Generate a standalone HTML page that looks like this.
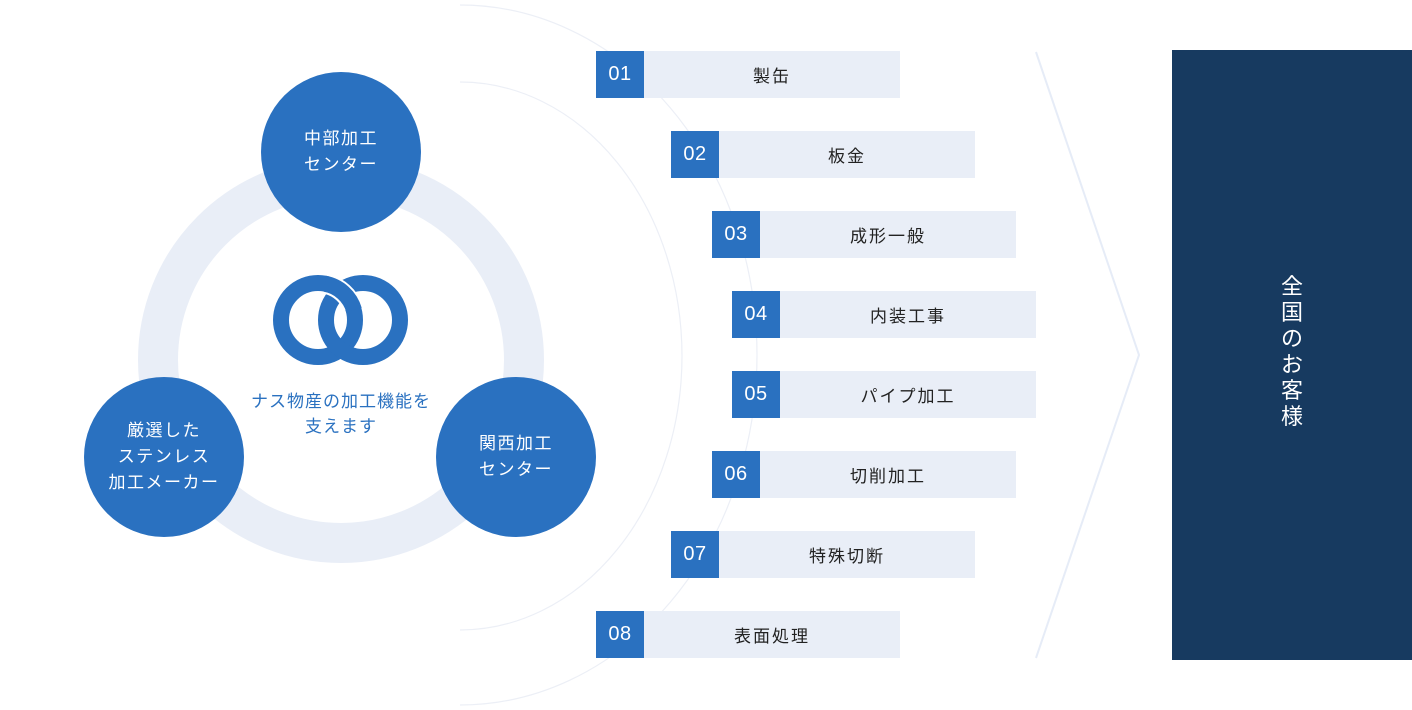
<!DOCTYPE html>
<html><head><meta charset="utf-8"><style>
body{margin:0;width:1412px;height:710px;background:#fff;position:relative;overflow:hidden;font-family:"Liberation Sans","Noto Sans CJK JP",sans-serif}
.b{position:absolute;height:47px;width:304px;background:#e9eef7;display:flex}
.b .n{width:48px;background:#2a71c0;color:#fff;font-size:20px;display:flex;align-items:center;justify-content:center;letter-spacing:.5px}
.b .t{flex:1;display:flex;align-items:center;justify-content:center;font-size:17px;color:#222;letter-spacing:2px}
.c{position:absolute;width:160px;height:160px;border-radius:50%;background:#2a71c0;color:#fff;display:flex;align-items:center;justify-content:center;text-align:center;font-size:17px;line-height:26px;letter-spacing:1.5px}
.v{position:absolute;left:1280px;top:274px;width:24px;color:#fff;font-size:22px;line-height:26px;text-align:center}
</style></head><body>
<svg width="1412" height="710" style="position:absolute;left:0;top:0">
<ellipse cx="460" cy="355" rx="297" ry="350" fill="none" stroke="#eceff6" stroke-width="1.2"/>
<ellipse cx="460" cy="356" rx="222" ry="274" fill="none" stroke="#eceff6" stroke-width="1.2"/>
<rect x="0" y="0" width="460" height="710" fill="#fff"/>
<circle cx="341" cy="360" r="183" fill="none" stroke="#e9eef7" stroke-width="40"/>
<polyline points="1036,52 1139,355 1036,658" fill="none" stroke="#e6ecf7" stroke-width="2"/>
<rect x="1172" y="50" width="240" height="610" fill="#173a60"/>
<circle cx="318" cy="320" r="37" fill="none" stroke="#2a71c0" stroke-width="16"/>
<circle cx="363" cy="320" r="37" fill="none" stroke="#2a71c0" stroke-width="16"/>
<path d="M 327.6 284.3 A 37 37 0 0 1 352.8 307.3" fill="none" stroke="#fff" stroke-width="20"/>
<path d="M 325 283.8 A 37 37 0 0 1 354 310" fill="none" stroke="#2a71c0" stroke-width="16"/>
</svg>
<div class="c" style="left:261px;top:72px">中部加工<br>センター</div>
<div class="c" style="left:84px;top:377px">厳選した<br>ステンレス<br>加工メーカー</div>
<div class="c" style="left:436px;top:377px">関西加工<br>センター</div>
<div style="position:absolute;left:226px;top:389px;width:230px;text-align:center;color:#2a71c0;font-size:17px;line-height:25px;letter-spacing:1px">ナス物産の加工機能を<br>支えます</div>
<div class="b" style="left:596px;top:51px"><div class="n">01</div><div class="t">製缶</div></div>
<div class="b" style="left:671px;top:131px"><div class="n">02</div><div class="t">板金</div></div>
<div class="b" style="left:712px;top:211px"><div class="n">03</div><div class="t">成形一般</div></div>
<div class="b" style="left:732px;top:291px"><div class="n">04</div><div class="t">内装工事</div></div>
<div class="b" style="left:732px;top:371px"><div class="n">05</div><div class="t">パイプ加工</div></div>
<div class="b" style="left:712px;top:451px"><div class="n">06</div><div class="t">切削加工</div></div>
<div class="b" style="left:671px;top:531px"><div class="n">07</div><div class="t">特殊切断</div></div>
<div class="b" style="left:596px;top:611px"><div class="n">08</div><div class="t">表面処理</div></div>
<div class="v">全<br>国<br>の<br>お<br>客<br>様</div>
</body></html>
